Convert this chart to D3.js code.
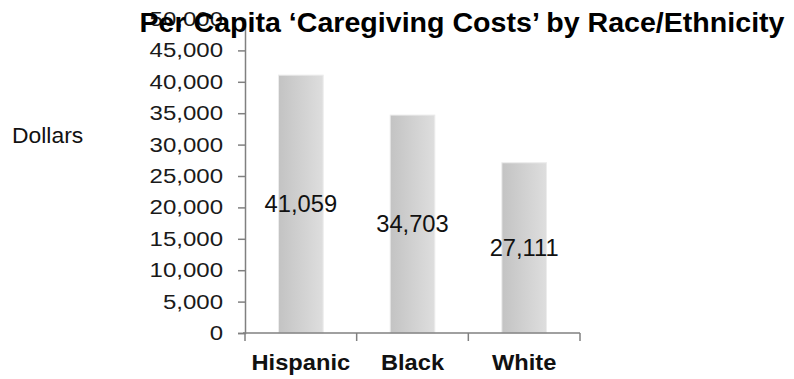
<!DOCTYPE html>
<html>
<head>
<meta charset="utf-8">
<script src="https://cdn.jsdelivr.net/npm/d3@7"></script>
<style>
  body { margin: 0; background: #fff; }
  text { font-family: Arial, "Liberation Sans", sans-serif; }
</style>
</head>
<body>
<div id="chart"></div>
<script>
var categories = ['Hispanic', 'Black', 'White'];
var values = [41059, 34703, 27111];
var yTicks = [0, 5000, 10000, 15000, 20000, 25000, 30000, 35000, 40000, 45000, 50000];

var width = 794, height = 379;
var margin = {t:19, r:214, b:46, l:245};

var svg = d3.select('#chart')
    .append('svg')
    .attr('width', width)
    .attr('height', height);

// the source picture is a bit stretched sideways, so widen text a little
function stretch(sel, k) {
    sel.each(function(){
        var w = this.getComputedTextLength();
        d3.select(this)
            .attr('textLength', w * k)
            .attr('lengthAdjust', 'spacingAndGlyphs');
    });
}

var defs = svg.append('defs');
var grad = defs.append('linearGradient')
    .attr('id', 'barGrad')
    .attr('x1', '0%').attr('x2', '100%')
    .attr('y1', '0%').attr('y2', '0%');
grad.append('stop').attr('offset', '0%').attr('stop-color', '#c3c3c3');
grad.append('stop').attr('offset', '100%').attr('stop-color', '#dedede');

var x = d3.scaleBand()
    .domain(categories)
    .range([margin.l, width - margin.r])
    .paddingInner(0.6)
    .paddingOuter(0.3);

var y = d3.scaleLinear()
    .domain([0, 50000])
    .range([height - margin.b, margin.t]);

var fmt = d3.format(',');

// bars
svg.selectAll('rect.bar')
    .data(values)
    .enter()
    .append('rect')
    .attr('class', 'bar')
    .attr('x', function(d, i){ return x(categories[i]); })
    .attr('y', function(d){ return y(d); })
    .attr('width', x.bandwidth())
    .attr('height', function(d){ return y(0) - y(d); })
    .style('fill', 'url(#barGrad)')
    .style('stroke', '#ececec')
    .style('stroke-width', '1px');

// value labels, middle of the bar
var vals = svg.selectAll('text.val')
    .data(values)
    .enter()
    .append('text')
    .attr('class', 'val')
    .attr('x', function(d, i){ return x(categories[i]) + x.bandwidth() / 2; })
    .attr('y', function(d){ return (y(0) + y(d)) / 2; })
    .attr('text-anchor', 'middle')
    .attr('dy', '0.36em')
    .style('font-size', '23px')
    .style('fill', '#111')
    .text(function(d){ return fmt(d); });
stretch(vals, 1.03);

// y axis
var yAxis = svg.append('g')
    .attr('transform', 'translate(' + margin.l + ',0)')
    .call(d3.axisLeft(y).tickValues(yTicks).tickFormat(fmt).tickSizeOuter(0).tickSize(7).tickPadding(15));

yAxis.select('.domain').style('stroke', '#808080').style('stroke-width', '1.5px');
yAxis.selectAll('.tick line').style('stroke', '#808080').style('stroke-width', '1.5px');
var yLabels = yAxis.selectAll('.tick text')
    .style('font-size', '20px')
    .style('fill', '#1a1a1a')
    .style('font-family', 'Arial, "Liberation Sans", sans-serif');
stretch(yLabels, 1.2);

// x axis with ticks between categories
var xAxisG = svg.append('g')
    .attr('transform', 'translate(0,' + y(0) + ')');

xAxisG.append('line')
    .attr('x1', margin.l - 2)
    .attr('x2', width - margin.r)
    .attr('y1', 0).attr('y2', 0)
    .style('stroke', '#808080')
    .style('stroke-width', '1.5px');

var step = x.step();
var bounds = [margin.l].concat(categories.map(function(c){ return x(c) + x.bandwidth() / 2 + step / 2; }));
bounds[bounds.length - 1] = width - margin.r;
xAxisG.selectAll('line.xt')
    .data(bounds)
    .enter()
    .append('line')
    .attr('class', 'xt')
    .attr('x1', function(d){ return d; })
    .attr('x2', function(d){ return d; })
    .attr('y1', 0).attr('y2', 8)
    .style('stroke', '#808080')
    .style('stroke-width', '1.5px');

var cats = xAxisG.selectAll('text.cat')
    .data(categories)
    .enter()
    .append('text')
    .attr('class', 'cat')
    .attr('x', function(d){ return x(d) + x.bandwidth() / 2; })
    .attr('y', 37)
    .attr('text-anchor', 'middle')
    .style('font-size', '22px')
    .style('font-weight', 'bold')
    .style('fill', '#111')
    .text(function(d){ return d; });
stretch(cats, 1.075);

// y axis title
var ytitle = svg.append('text')
    .attr('x', 12)
    .attr('y', 143)
    .style('font-size', '22px')
    .style('fill', '#111')
    .text('Dollars');
stretch(ytitle, 1.04);

// chart title
svg.append('text')
    .attr('x', 462)
    .attr('y', 32)
    .attr('text-anchor', 'middle')
    .attr('textLength', 645)
    .attr('lengthAdjust', 'spacingAndGlyphs')
    .style('font-size', '27px')
    .style('font-weight', 'bold')
    .style('fill', '#000')
    .text('Per Capita \u2018Caregiving Costs\u2019 by Race/Ethnicity');
</script>
</body>
</html>
